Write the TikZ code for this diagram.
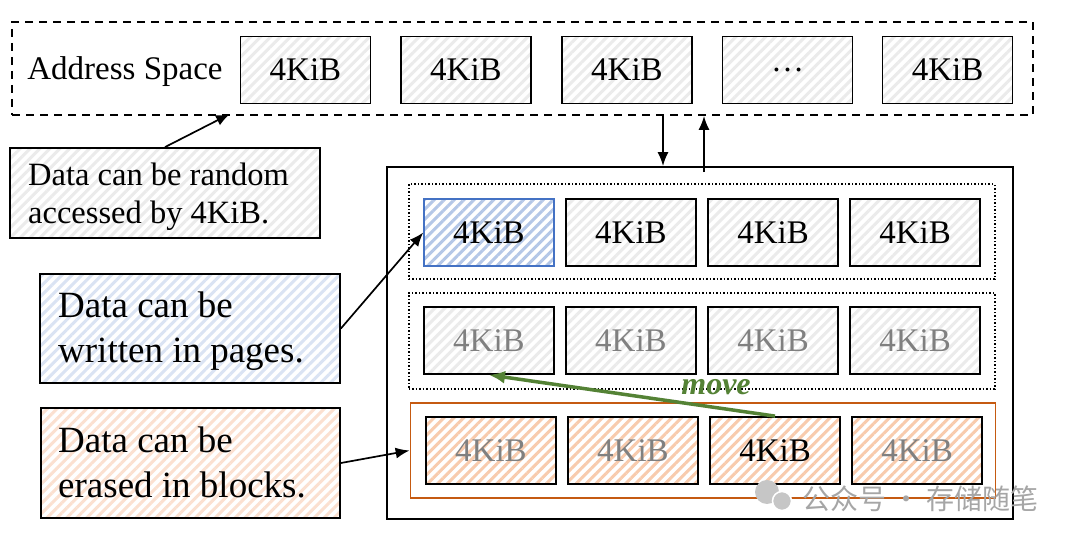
\documentclass[tikz,border=0pt]{standalone}
\usepackage{fontspec}
\setmainfont{Liberation Serif}
\newfontfamily\cjk{Noto Sans CJK SC}
\usetikzlibrary{patterns.meta,arrows.meta,calc}
\definecolor{hgray}{HTML}{EBEBEB}
\definecolor{hblue}{HTML}{B4C7E7}
\definecolor{hbluel}{HTML}{DAE3F3}
\definecolor{bblue}{HTML}{4472C4}
\definecolor{horange}{HTML}{F8CBAD}
\definecolor{horangel}{HTML}{FBE0D0}
\definecolor{borange}{HTML}{C55A11}
\definecolor{mgreen}{HTML}{548235}
\definecolor{tgray}{HTML}{808080}
\begin{document}
\begin{tikzpicture}[x=1pt,y=-1pt,
  hatch/.style={pattern={Lines[angle=45,distance=7pt,line width=3pt]}},
  cell/.style={draw=black, line width=1.8pt, minimum width=130pt, minimum height=67pt,
    inner sep=0pt, font=\fontsize{33}{35}\selectfont, hatch, pattern color=hgray},
  graycell/.style={cell, text=tgray},
  orcell/.style={cell, pattern color=horange},
  note/.style={draw=black, line width=1.8pt, inner sep=0pt, hatch},
  arr/.style={-{Latex[length=14pt,width=11pt]}, line width=1.7pt},
  frame/.style={inner sep=0pt, line width=1.5pt}
]
\useasboundingbox (0,0) rectangle (1080,545);
\fill[white] (0,0) rectangle (1080,545);

% address space
\node[frame, draw, line width=1.8pt, dash pattern=on 8pt off 6pt, minimum width=1021pt, minimum height=93pt] (addr) at (522.5,68.5) {};
\node[font=\fontsize{33}{35}\selectfont] (aslabel) at (125,72) {Address Space};
\node[cell] (a1) at (305.5,70) {4KiB};
\node[cell] (a2) at (466,70) {4KiB};
\node[cell] (a3) at (627,70) {4KiB};
\node[cell] (a4) at (787.5,70) {\ldots};
\node[cell] (a5) at (947.5,70) {4KiB};

% notes
\node[note, pattern color=hgray, minimum width=310pt, minimum height=90pt] (rnd) at (165,193) {};
\node[anchor=north west, align=left, inner sep=0pt, font=\fontsize{32.5}{38}\selectfont] (rndt) at (28,163) {Data can be random\\accessed by 4KiB.};
\node[note, pattern color=hbluel, minimum width=300pt, minimum height=109pt] (bnote) at (190,328.5) {};
\node[anchor=north west, align=left, inner sep=0pt, font=\fontsize{37}{45}\selectfont] (bnotet) at (58,292) {Data can be\\written in pages.};
\node[note, pattern color=horangel, minimum width=299pt, minimum height=110pt] (onote) at (190.5,463) {};
\node[anchor=north west, align=left, inner sep=0pt, font=\fontsize{37}{45}\selectfont] (onotet) at (58,427) {Data can be\\erased in blocks.};

% device
\node[frame, draw, line width=1.8pt, minimum width=626pt, minimum height=352pt] (dev) at (700,343) {};
\node[frame, draw, dotted, line width=2pt, minimum width=586pt, minimum height=95pt] (row1) at (701.5,232) {};
\node[frame, draw, dotted, line width=2pt, minimum width=586pt, minimum height=96pt] (row2) at (701.5,341) {};
\node[frame, draw=borange, line width=1.7pt, minimum width=585pt, minimum height=95pt] (blk) at (703,450.5) {};

\node[cell, draw=bblue, line width=1.5pt, pattern color=hblue] (b1) at (489,232.5) {4KiB};
\node[cell] (b2) at (631,232.5) {4KiB};
\node[cell] (b3) at (773,232.5) {4KiB};
\node[cell] (b4) at (915,232.5) {4KiB};

\node[graycell] (c1) at (489,340.5) {4KiB};
\node[graycell] (c2) at (631,340.5) {4KiB};
\node[graycell] (c3) at (773,340.5) {4KiB};
\node[graycell] (c4) at (915,340.5) {4KiB};

\node[orcell, text=tgray] (d1) at (491,450.5) {4KiB};
\node[orcell, text=tgray] (d2) at (633,450.5) {4KiB};
\node[orcell] (d3) at (775,450.5) {4KiB};
\node[orcell, text=tgray] (d4) at (917,450.5) {4KiB};

% connectors
\coordinate (dn) at (663,0);
\coordinate (up) at (704,0);
\coordinate (rt) at (230,0);
\draw[arr] (addr.south -| dn) -- (dev.north -| dn);
\draw[arr] ($(dev.north -| up)+(0,6)$) -- (addr.south -| up);
\draw[arr] (rnd.north) -- ($(addr.south -| rt)+(0,-2)$);
\draw[arr] (bnote.east) -- (b1.west);
\draw[arr] (onote.east) -- (blk.west);
\draw[-{Latex[length=16pt,width=13pt]}, line width=3.5pt, mgreen] (d3.north) -- (c1.south);
\node[font=\fontsize{32}{34}\selectfont\bfseries\itshape, text=mgreen, inner sep=0pt] (mv) at (716,387) {move};

% watermark
\node[circle, fill=gray!45, minimum size=24pt, inner sep=0pt] (wm1) at (767,492) {};
\node[circle, fill=gray!45, draw=white, line width=1.5pt, minimum size=19pt, inner sep=0pt] (wm2) at (782,501) {};
\node[anchor=west, inner sep=0pt, text=gray!70, font=\cjk\fontsize{28}{30}\selectfont] (wmt) at (802,499) {公众号 · 存储随笔};
\end{tikzpicture}
\end{document}
